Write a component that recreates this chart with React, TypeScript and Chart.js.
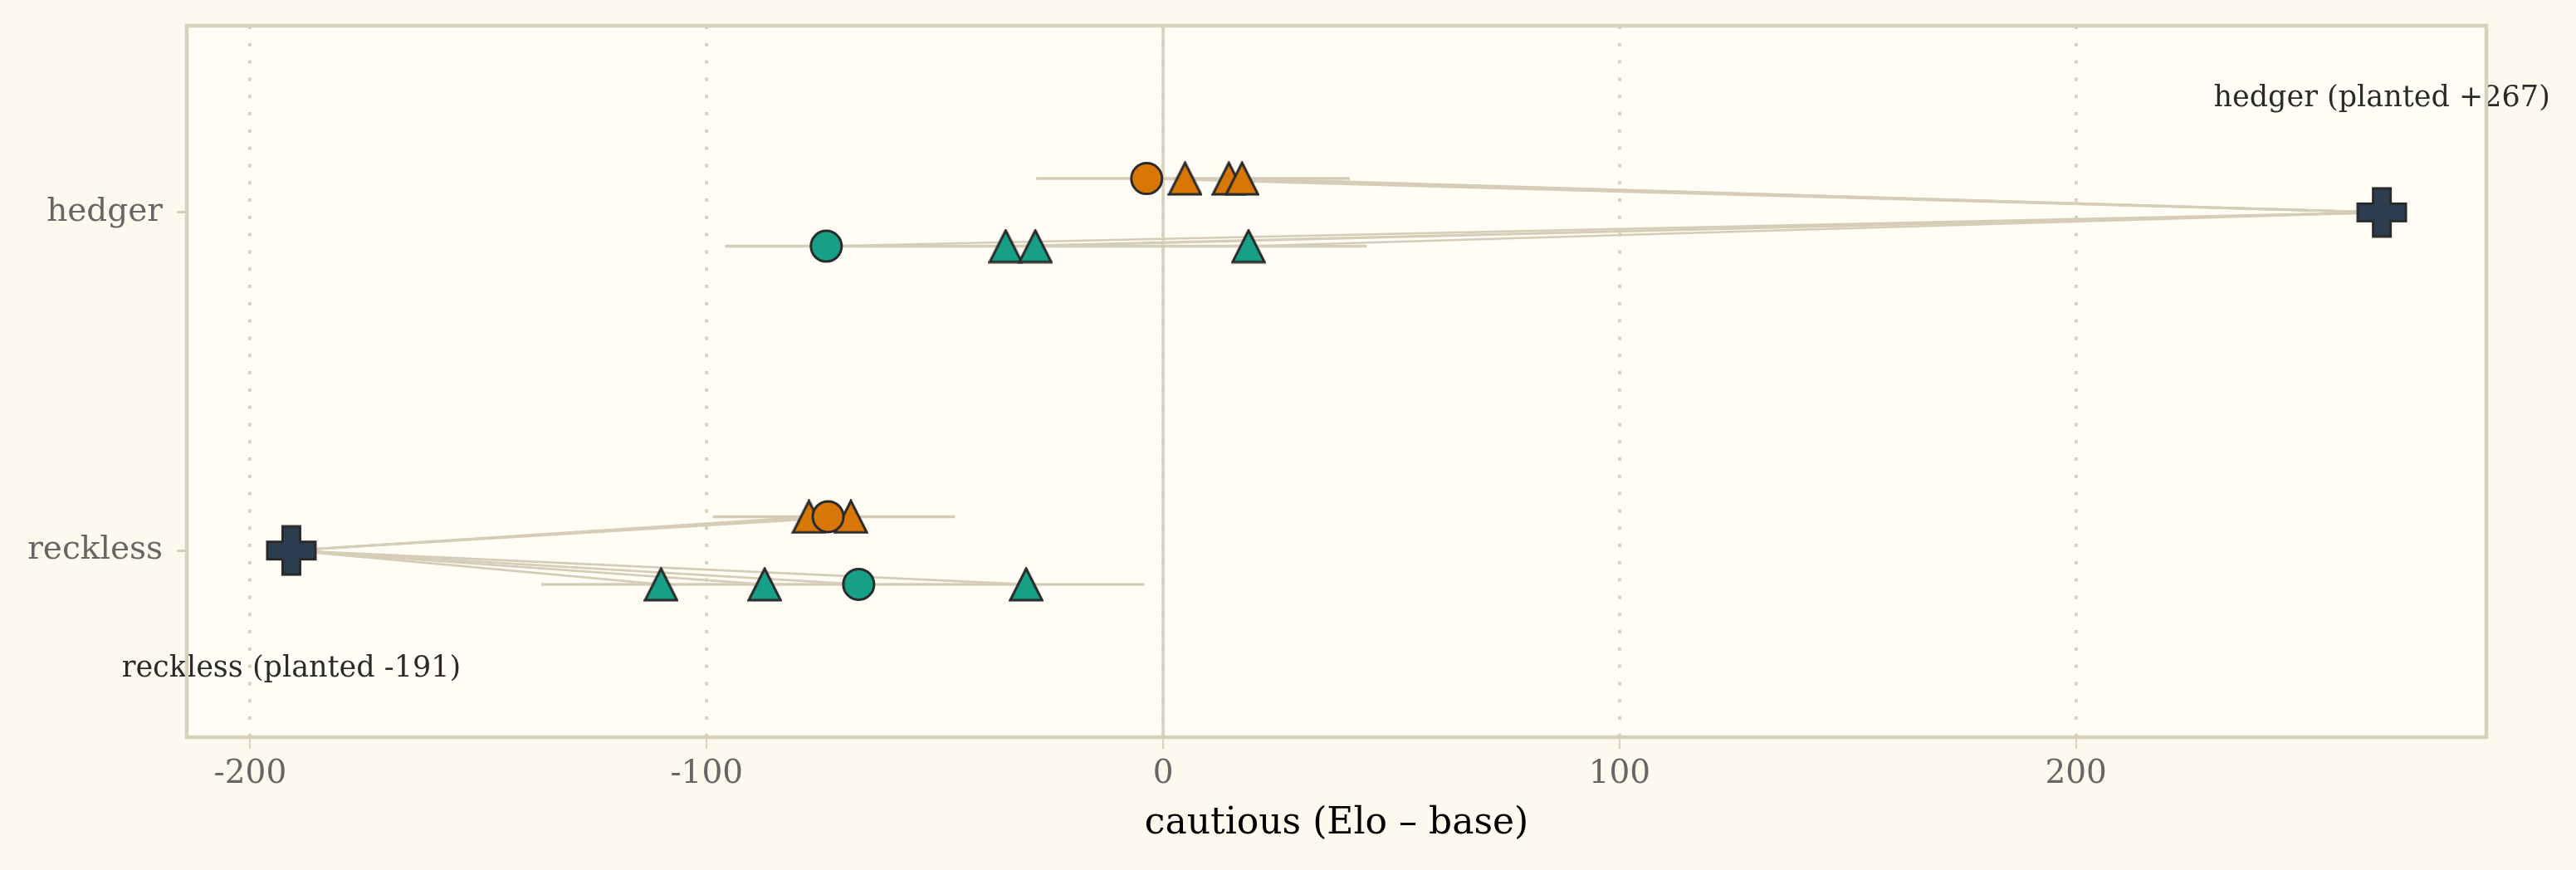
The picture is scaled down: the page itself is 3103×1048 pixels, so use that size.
import React, { useEffect, useRef } from "react";
import { Chart, registerables } from "chart.js";

Chart.register(...registerables);

// ---------- data ----------
const categories = ["reckless", "hedger"]; // y = 0, 1
const plantedValues = [-191, 267];
const plantedLabels = ["reckless (planted -191)", "hedger (planted +267)"];
const plantedLabelY = [-0.35, 1.336];

// orange row (upper offset), teal row (lower offset)
const rowOffsetOrange = 0.1;
const rowOffsetTeal = -0.1;

const orangeCircle = [-73.4, -3.6];
const orangeTriangles = [
  [-77.6, -68.4],
  [4.8, 14.4, 17.3],
];
const orangeRange = [
  [-98.7, -45.6],
  [-27.8, 40.9],
];

const tealCircle = [-66.7, -73.8];
const tealTriangles = [
  [-110, -87.3, -30],
  [-34.5, -28, 18.7],
];
const tealRange = [
  [-136.3, -4.1],
  [-96, 44.6],
];

const xTicks = [-200, -100, 0, 100, 200];
const xMin = -213.9;
const xMax = 289.9;
const yMin = -0.552;
const yMax = 1.552;

// ---------- styles ----------
const ORANGE = "#d97706";
const TEAL = "#17a085";
const NAVY = "#2c3e50";
const EDGE = "#2a2a2a";
const BEIGE = "#d9d0bb";
const LINE = "#d6cdb8";
const PAGE_BG = "#fdf9ef";
const PANEL_BG = "#fffdf6";
const FONT = "'DejaVu Serif', serif";

function makeTriangle(fill: string): HTMLCanvasElement {
  const c = document.createElement("canvas");
  const w = 42;
  const h = 42;
  c.width = w;
  c.height = h;
  const ctx = c.getContext("2d")!;
  ctx.beginPath();
  ctx.moveTo(w / 2, 2);
  ctx.lineTo(w - 1.8, h - 2);
  ctx.lineTo(1.8, h - 2);
  ctx.closePath();
  ctx.fillStyle = fill;
  ctx.fill();
  ctx.lineWidth = 3;
  ctx.lineJoin = "miter";
  ctx.strokeStyle = EDGE;
  ctx.stroke();
  return c;
}

function makePlus(fill: string): HTMLCanvasElement {
  const c = document.createElement("canvas");
  const s = 62;
  c.width = s;
  c.height = s;
  const ctx = c.getContext("2d")!;
  const a = 2;
  const b = s - 2;
  const t1 = s / 2 - 10.5;
  const t2 = s / 2 + 10.5;
  ctx.beginPath();
  ctx.moveTo(t1, a);
  ctx.lineTo(t2, a);
  ctx.lineTo(t2, t1);
  ctx.lineTo(b, t1);
  ctx.lineTo(b, t2);
  ctx.lineTo(t2, t2);
  ctx.lineTo(t2, b);
  ctx.lineTo(t1, b);
  ctx.lineTo(t1, t2);
  ctx.lineTo(a, t2);
  ctx.lineTo(a, t1);
  ctx.lineTo(t1, t1);
  ctx.closePath();
  ctx.fillStyle = fill;
  ctx.fill();
  ctx.lineWidth = 3;
  ctx.strokeStyle = EDGE;
  ctx.stroke();
  return c;
}

export default function App() {
  const ref = useRef<HTMLCanvasElement | null>(null);

  useEffect(() => {
    document.body.style.margin = "0";
    document.body.style.background = PAGE_BG;
    const canvas = ref.current!;
    const triOrange = makeTriangle(ORANGE);
    const triTeal = makeTriangle(TEAL);
    const plus = makePlus(NAVY);

    const datasets: any[] = [];

    // zero reference line
    datasets.push({
      type: "scatter",
      data: [
        { x: 0, y: yMin },
        { x: 0, y: yMax },
      ],
      showLine: true,
      borderColor: BEIGE,
      borderWidth: 3.5,
      pointRadius: 0,
      order: 6,
    });

    // connectors from planted value to each estimate
    categories.forEach((_, ci) => {
      const px = plantedValues[ci];
      const groups = [
        { vals: [...orangeTriangles[ci], orangeCircle[ci]], off: rowOffsetOrange },
        { vals: [...tealTriangles[ci], tealCircle[ci]], off: rowOffsetTeal },
      ];
      groups.forEach((g) => {
        g.vals.forEach((v) => {
          datasets.push({
            type: "scatter",
            data: [
              { x: px, y: ci },
              { x: v, y: ci + g.off },
            ],
            showLine: true,
            borderColor: LINE,
            borderWidth: 2.6,
            pointRadius: 0,
            order: 5,
          });
        });
      });
    });

    // ranges
    categories.forEach((_, ci) => {
      [
        { r: orangeRange[ci], off: rowOffsetOrange },
        { r: tealRange[ci], off: rowOffsetTeal },
      ].forEach((g) => {
        datasets.push({
          type: "scatter",
          data: [
            { x: g.r[0], y: ci + g.off },
            { x: g.r[1], y: ci + g.off },
          ],
          showLine: true,
          borderColor: LINE,
          borderWidth: 3.5,
          pointRadius: 0,
          order: 4,
        });
      });
    });

    // triangles
    datasets.push({
      type: "scatter",
      data: categories.flatMap((_, ci) => tealTriangles[ci].map((v) => ({ x: v, y: ci + rowOffsetTeal }))),
      pointStyle: triTeal,
      pointRadius: 20,
      order: 3,
    });
    datasets.push({
      type: "scatter",
      data: categories.flatMap((_, ci) => orangeTriangles[ci].map((v) => ({ x: v, y: ci + rowOffsetOrange }))),
      pointStyle: triOrange,
      pointRadius: 20,
      order: 3,
    });

    // circles
    datasets.push({
      type: "scatter",
      data: categories.map((_, ci) => ({ x: orangeCircle[ci], y: ci + rowOffsetOrange })),
      pointStyle: "circle",
      pointRadius: 18.5,
      backgroundColor: ORANGE,
      borderColor: EDGE,
      borderWidth: 3,
      order: 2,
    });
    datasets.push({
      type: "scatter",
      data: categories.map((_, ci) => ({ x: tealCircle[ci], y: ci + rowOffsetTeal })),
      pointStyle: "circle",
      pointRadius: 18.5,
      backgroundColor: TEAL,
      borderColor: EDGE,
      borderWidth: 3,
      order: 2,
    });

    // planted crosses
    datasets.push({
      type: "scatter",
      data: categories.map((_, ci) => ({ x: plantedValues[ci], y: ci })),
      pointStyle: plus,
      pointRadius: 30,
      order: 1,
    });

    const panelPlugin = {
      id: "panel",
      beforeDraw(chart: any) {
        const { ctx, chartArea: a } = chart;
        ctx.save();
        ctx.fillStyle = PAGE_BG;
        ctx.fillRect(0, 0, chart.width, chart.height);
        ctx.fillStyle = PANEL_BG;
        ctx.fillRect(a.left, a.top, a.right - a.left, a.bottom - a.top);
        ctx.restore();
      },
      afterDatasetsDraw(chart: any) {
        const { ctx, chartArea: a } = chart;
        const xs = chart.scales.x;
        const ys = chart.scales.y;
        ctx.save();
        ctx.font = `35px ${FONT}`;
        ctx.fillStyle = "#2a2a2a";
        ctx.textAlign = "center";
        ctx.textBaseline = "middle";
        plantedLabels.forEach((t, i) => {
          ctx.fillText(t, xs.getPixelForValue(plantedValues[i]), ys.getPixelForValue(plantedLabelY[i]));
        });
        ctx.strokeStyle = BEIGE;
        ctx.lineWidth = 4.5;
        ctx.strokeRect(a.left, a.top, a.right - a.left, a.bottom - a.top);
        ctx.restore();
      },
    };

    const chart = new Chart(canvas, {
      type: "scatter",
      data: { datasets },
      options: {
        animation: false,
        responsive: false,
        devicePixelRatio: 1,
        layout: { padding: { left: 0, top: 29.5, right: 3103 - 2995, bottom: 0 } },
        plugins: { legend: { display: false }, tooltip: { enabled: false } },
        scales: {
          x: {
            type: "linear",
            min: xMin,
            max: xMax,
            afterBuildTicks: (s: any) => {
              s.ticks = xTicks.map((v) => ({ value: v }));
            },
            afterFit: (s: any) => {
              s.height = 1048 - 888;
              s.paddingLeft = 0;
              s.paddingRight = 0;
            },
            grid: {
              color: BEIGE,
              lineWidth: 4,
              drawTicks: true,
              tickLength: 14,
              tickColor: BEIGE,
              tickWidth: 2,
            },
            border: { display: false, dash: [4, 16.8] },
            ticks: {
              color: "#666666",
              font: { family: FONT, size: 39 },
              padding: 7,
              maxRotation: 0,
              callback: (v: any) => String(v),
            },
            title: {
              display: true,
              text: "cautious (Elo – base)",
              color: "#000000",
              font: { family: FONT, size: 44, weight: "normal" },
              padding: { top: 0, bottom: 29 },
            },
          },
          y: {
            type: "linear",
            min: yMin,
            max: yMax,
            afterBuildTicks: (s: any) => {
              s.ticks = categories.map((_, i) => ({ value: i }));
            },
            afterFit: (s: any) => {
              s.width = 225;
              s.paddingTop = 0;
              s.paddingBottom = 0;
            },
            grid: {
              drawOnChartArea: false,
              drawTicks: true,
              tickLength: 12,
              tickColor: BEIGE,
              tickWidth: 3,
              color: BEIGE,
            },
            border: { display: false },
            ticks: {
              color: "#666666",
              font: { family: FONT, size: 39 },
              padding: 17,
              callback: (v: any) => categories[Math.round(v)] ?? "",
            },
          },
        },
      },
      plugins: [panelPlugin],
    });
    return () => chart.destroy();
  }, []);

  return (
    <div style={{ width: 3103, height: 1048 }}>
      <canvas ref={ref} width={3103} height={1048} style={{ display: "block" }} />
    </div>
  );
}
